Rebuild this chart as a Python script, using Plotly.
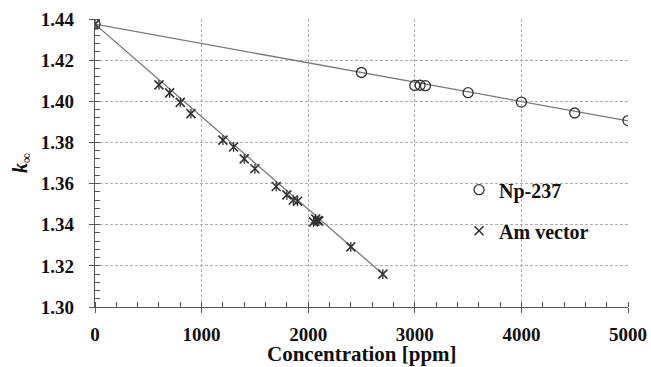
import plotly.graph_objects as go

np_x = [0, 2500, 3000, 3050, 3100, 3500, 4000, 4500, 5000]
np_y = [1.4375, 1.4140, 1.4077, 1.4078, 1.4076, 1.4042, 1.3996, 1.3943, 1.3906]
np_fit_x = [0, 5000]
np_fit_y = [1.4375, 1.3905]

am_x = [0, 600, 700, 800, 900, 1200, 1300, 1400, 1500, 1700, 1800, 1860, 1900,
        2050, 2070, 2090, 2100, 2400, 2700]
am_y = [1.4375, 1.4080, 1.4041, 1.3995, 1.3940, 1.3811, 1.3778, 1.3720, 1.3672,
        1.3586, 1.3545, 1.3520, 1.3514, 1.3414, 1.3428, 1.3420, 1.3418, 1.3292, 1.3160]
am_fit_x = [0, 2700]
am_fit_y = [1.4375, 1.3160]

x_tick_step = 1000
y_tick_step = 0.02

FONT = "Liberation Serif"
MK = "#333333"
LN = "#7a7a7a"
TXT = "#111111"

fig = go.Figure()
fig.add_trace(go.Scatter(x=np_fit_x, y=np_fit_y, mode="lines",
                         line=dict(color=LN, width=1.3), showlegend=False, hoverinfo="skip"))
fig.add_trace(go.Scatter(x=am_fit_x, y=am_fit_y, mode="lines",
                         line=dict(color=LN, width=1.3), showlegend=False, hoverinfo="skip"))
fig.add_trace(go.Scatter(x=np_x, y=np_y, mode="markers", name="Np-237", legendgroup="a",
                         marker=dict(symbol="circle-open", size=10, color=MK,
                                     line=dict(width=1.3, color=MK))))
fig.add_trace(go.Scatter(x=am_x, y=am_y, mode="markers", name="Am vector", legendgroup="b",
                         marker=dict(symbol="x-thin-open", size=9, color=MK,
                                     line=dict(width=1.6, color=MK))))
fig.add_trace(go.Scatter(x=am_x, y=am_y, mode="markers", showlegend=False, legendgroup="b",
                         hoverinfo="skip",
                         marker=dict(symbol="line-ns-open", size=7, color=MK,
                                     line=dict(width=1.3, color=MK))))

axis_common = dict(
    showline=True, linecolor="#555555", linewidth=1.3, automargin=False,
    showgrid=True, gridcolor="#b0b0b0", griddash="3px,2px", gridwidth=1,
    zeroline=False, ticks="outside", ticklen=5, tickcolor="#555555", tickwidth=1.2,
    tickfont=dict(family=FONT, size=19, color=TXT, weight="bold"),
    mirror=False, tickmode="linear", ticklabeloverflow="allow",
)

fig.update_xaxes(**axis_common, range=[0, 5000], tick0=0, dtick=x_tick_step,
                 ticklabelstandoff=5,
                 minor=dict(dtick=200, tick0=0, ticks="inside", ticklen=5, tickcolor="#555555",
                            tickwidth=1, showgrid=False))
fig.update_yaxes(**axis_common, range=[1.30, 1.44], tick0=1.30, dtick=y_tick_step,
                 tickformat=".2f", ticklabelstandoff=11,
                 minor=dict(dtick=0.004, tick0=1.30, ticks="inside", ticklen=5, tickcolor="#555555",
                            tickwidth=1, showgrid=False))

fig.add_annotation(text="Concentration [ppm]", xref="paper", yref="paper", x=0.5, y=0,
                   yshift=-47, xanchor="center", yanchor="middle", showarrow=False,
                   font=dict(family=FONT, size=21, color=TXT, weight="bold"))
fig.add_annotation(text="<b><i>k</i></b><sub>∞</sub>", xref="paper", yref="paper", x=0, y=0.5,
                   xshift=-74, xanchor="center", yanchor="middle", showarrow=False, textangle=-90,
                   font=dict(family=FONT, size=20, color=TXT))

fig.update_layout(
    width=651, height=367,
    margin=dict(l=95, r=23, t=19, b=60),
    plot_bgcolor="white", paper_bgcolor="white",
    legend=dict(x=0.683, y=0.475, xanchor="left", yanchor="top",
                bgcolor="rgba(0,0,0,0)", traceorder="grouped", tracegroupgap=12,
                font=dict(family=FONT, size=20, color=TXT, weight="bold"),
                itemwidth=30),
)

fig.write_html("out.html", config={"displayModeBar": False},
               post_script="document.body.style.margin='0px';document.body.style.overflow='hidden';")
